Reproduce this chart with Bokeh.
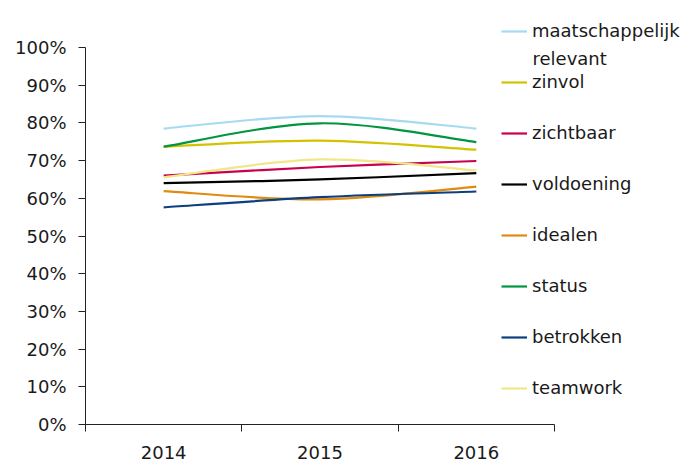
from bokeh.plotting import figure
from bokeh.models import (FixedTicker, NumeralTickFormatter, Legend, LegendItem,
                          ColumnDataSource, Label, Range1d)
from bokeh.embed import file_html
from bokeh.resources import INLINE

years = ["2014", "2015", "2016"]
series_names = ["maatschappelijk", "zinvol", "zichtbaar", "voldoening",
                "idealen", "status", "betrokken", "teamwork"]
maatschappelijk_relevant = [0.785, 0.818, 0.785]
zinvol = [0.737, 0.753, 0.729]
zichtbaar = [0.660, 0.683, 0.699]
voldoening = [0.640, 0.650, 0.667]
idealen = [0.619, 0.597, 0.631]
status = [0.737, 0.799, 0.749]
betrokken = [0.576, 0.603, 0.618]
teamwork = [0.656, 0.703, 0.674]
colors = ["#A6D9F2", "#D2C300", "#C8004E", "#000000",
          "#E08A10", "#00963F", "#0B3F80", "#F1E68A"]
values = [maatschappelijk_relevant, zinvol, zichtbaar, voldoening,
          idealen, status, betrokken, teamwork]

FONT = "DejaVu Sans"
FS = "18px"

# frame: x 0..3 -> 85..554 px, y 0..1 -> 424..47 px; frame fills to right/top edge
x_end = 615 / 469 * 3
y_end = 424 / 377

p = figure(width=700, height=463, output_backend="svg", toolbar_location=None,
           x_range=Range1d(0, x_end), y_range=Range1d(0, y_end),
           min_border_left=85, min_border_right=0, min_border_top=0,
           min_border_bottom=39)
p.outline_line_color = None
p.grid.visible = False
p.background_fill_color = "white"
p.border_fill_color = "white"

xs = [i + 0.5 for i in range(len(years))]


def bezier_segments(x, y):
    n = len(x)
    out = dict(x0=[], y0=[], x1=[], y1=[], cx0=[], cy0=[], cx1=[], cy1=[])
    for i in range(n - 1):
        xm1, ym1 = (x[i - 1], y[i - 1]) if i > 0 else (x[i], y[i])
        xp2, yp2 = (x[i + 2], y[i + 2]) if i + 2 < n else (x[i + 1], y[i + 1])
        out["x0"].append(x[i]); out["y0"].append(y[i])
        out["x1"].append(x[i + 1]); out["y1"].append(y[i + 1])
        out["cx0"].append(x[i] + (x[i + 1] - xm1) / 6)
        out["cy0"].append(y[i] + (y[i + 1] - ym1) / 6)
        out["cx1"].append(x[i + 1] - (xp2 - x[i]) / 6)
        out["cy1"].append(y[i + 1] - (yp2 - y[i]) / 6)
    return out


items = []
for name, vals, col in zip(series_names, values, colors):
    src = ColumnDataSource(bezier_segments(xs, vals))
    r = p.bezier(x0="x0", y0="y0", x1="x1", y1="y1", cx0="cx0", cy0="cy0",
                 cx1="cx1", cy1="cy1", source=src, line_color=col, line_width=2.2)
    items.append(LegendItem(label=name, renderers=[r]))

legend = Legend(items=items, location=(416, 26), orientation="vertical",
                label_text_font=FONT, label_text_font_size=FS,
                label_text_color="#1a1a1a", label_height=20, glyph_height=20,
                glyph_width=26, label_standoff=5, spacing=30, padding=0, margin=0,
                border_line_color=None, background_fill_alpha=0)
p.add_layout(legend)

p.add_layout(Label(x=(532 - 85) / 469 * 3, y=(424 - 58) / 377, text="relevant",
                   text_font=FONT, text_font_size=FS, text_color="#1a1a1a",
                   text_baseline="middle", text_align="left"))

# axes
p.yaxis.ticker = FixedTicker(ticks=[i / 10 for i in range(11)])
p.yaxis.formatter = NumeralTickFormatter(format="0%")
p.yaxis.bounds = (0, 1)
p.yaxis.major_tick_in = 0
p.yaxis.major_tick_out = 7
p.yaxis.major_label_standoff = 12

p.xaxis.ticker = FixedTicker(ticks=xs, minor_ticks=[0, 1, 2, 3])
p.xaxis.major_label_overrides = {x: y for x, y in zip(xs, years)}
p.xaxis.bounds = (0, 3)
p.xaxis.major_tick_in = 0
p.xaxis.major_tick_out = 0
p.xaxis.minor_tick_in = 0
p.xaxis.minor_tick_out = 7
p.xaxis.major_label_standoff = 14

for ax in (p.xaxis, p.yaxis):
    ax.axis_line_color = "#222222"
    ax.major_tick_line_color = "#222222"
    ax.major_label_text_font = FONT
    ax.major_label_text_font_size = FS
    ax.major_label_text_color = "#1a1a1a"
p.xaxis.minor_tick_line_color = "#222222"
p.yaxis.minor_tick_line_color = None

open("out.html", "w").write(file_html(p, INLINE))
